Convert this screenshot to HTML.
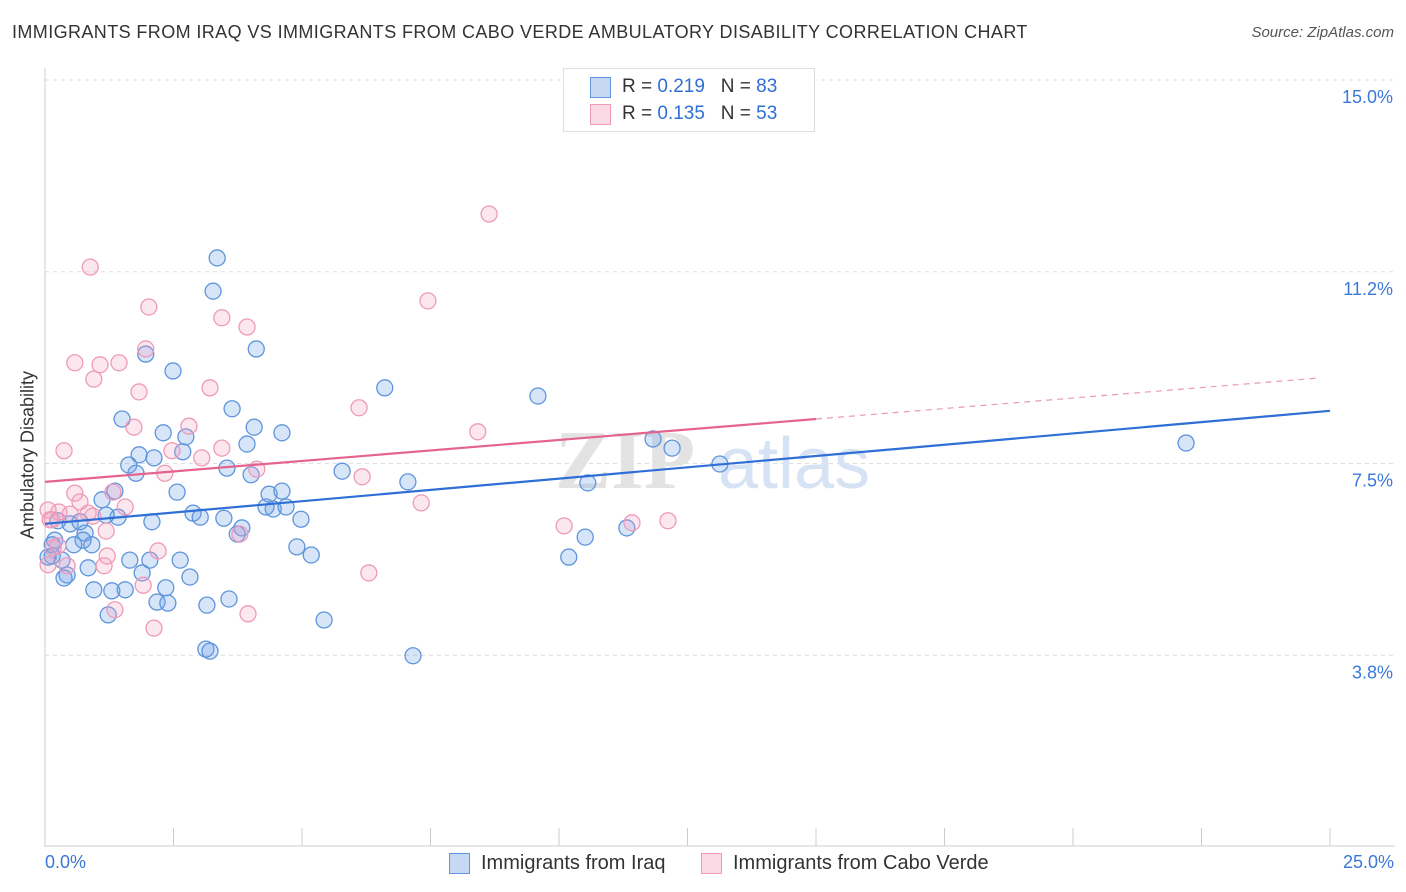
<!DOCTYPE html>
<html><head><meta charset="utf-8">
<style>
body{margin:0;background:#fff;font-family:"Liberation Sans",sans-serif;}
#wrap{position:relative;width:1406px;height:892px;overflow:hidden;}
.t{position:absolute;white-space:nowrap;}
</style></head>
<body>
<div id="wrap">
<div class="t" style="left:12px;top:22px;font-size:18px;color:#333;letter-spacing:0.4px;">IMMIGRANTS FROM IRAQ VS IMMIGRANTS FROM CABO VERDE AMBULATORY DISABILITY CORRELATION CHART</div>
<div class="t" style="right:12px;top:24px;font-size:15px;color:#555;font-style:italic;">Source: ZipAtlas.com</div>
<svg id="plot" width="1406" height="892" style="position:absolute;left:0;top:0"></svg>
</div>
<script>
const xTicks=[0,2.5,5,7.5,10,12.5,15,17.5,20,22.5,25];
const yTicks=[15,11.25,7.5,3.75];
const yTickLabels=["15.0%","11.2%","7.5%","3.8%"];
const iraqX=[3.35,3.27,4.11,1.96,2.49,6.61,9.59,3.64,1.50,4.07,4.61,2.30,2.74,3.93,11.83,12.20,22.20,2.68,1.83,2.12,1.63,1.77,3.54,4.01,5.78,7.06,10.56,13.13,2.57,1.36,1.11,4.36,4.61,4.30,4.44,4.69,2.88,3.02,3.48,4.98,1.42,1.19,2.08,0.25,0.49,0.68,0.78,3.83,3.74,0.19,0.74,0.56,0.91,4.90,5.18,10.19,10.51,11.32,0.14,0.33,1.65,2.04,2.63,0.84,1.89,2.82,0.43,0.37,0.95,1.30,1.56,2.35,2.18,2.39,3.15,3.58,1.23,5.43,3.13,3.21,7.16,0.06,0.14];
const iraqY=[11.52,10.87,9.74,9.64,9.31,8.98,8.82,8.57,8.37,8.21,8.10,8.10,8.02,7.88,7.98,7.80,7.90,7.73,7.67,7.61,7.47,7.31,7.41,7.28,7.35,7.14,7.12,7.49,6.94,6.96,6.79,6.90,6.96,6.65,6.61,6.65,6.53,6.45,6.43,6.41,6.45,6.49,6.36,6.38,6.32,6.36,6.14,6.24,6.12,6.00,6.00,5.91,5.91,5.87,5.71,5.67,6.06,6.24,5.69,5.61,5.61,5.61,5.61,5.46,5.36,5.28,5.32,5.26,5.03,5.01,5.03,5.07,4.79,4.77,4.73,4.85,4.54,4.44,3.87,3.83,3.74,5.67,5.91];
const caboX=[8.64,0.88,7.45,2.02,3.44,3.93,1.96,0.58,1.07,1.44,0.95,3.21,1.83,6.11,1.73,2.80,8.42,0.37,3.44,2.47,3.05,2.33,4.12,6.17,0.58,1.32,0.68,1.56,0.27,0.49,0.84,0.93,0.06,0.14,1.19,7.32,10.10,11.42,12.12,3.79,2.20,1.21,0.16,0.43,1.15,0.06,6.30,1.91,1.36,3.95,2.12,0.25,0.10];
const caboY=[12.38,11.34,10.68,10.56,10.35,10.17,9.74,9.47,9.43,9.47,9.15,8.98,8.90,8.59,8.21,8.23,8.12,7.75,7.80,7.75,7.61,7.31,7.39,7.24,6.92,6.94,6.75,6.65,6.55,6.51,6.53,6.47,6.59,6.40,6.18,6.73,6.28,6.34,6.38,6.12,5.79,5.69,5.85,5.50,5.50,5.52,5.36,5.12,4.64,4.56,4.28,5.89,6.40];
const iraqTrend=[6.32,8.53];
const caboTrend=[7.14,0.082];

const svg=document.getElementById('plot');
const NS='http://www.w3.org/2000/svg';
const X=v=>45+v/25*1285;
const Y=v=>847-v/15*767;
function mk(tag,attrs){const e=document.createElementNS(NS,tag);for(const k in attrs)e.setAttribute(k,attrs[k]);svg.appendChild(e);return e;}

yTicks.forEach((v,i)=>{
  const g=mk('line',{x1:45,x2:1395,y1:Y(v),y2:Y(v),stroke:'#ddd','stroke-dasharray':'4,4'});
  
  
  const t=mk('text',{x:1393,y:Y(v)+23,'text-anchor':'end','font-size':18,fill:'#3b78d8','font-family':'Liberation Sans'});
  t.textContent=yTickLabels[i];
  
  
});
const ax=mk('line',{x1:45,x2:45,y1:68,y2:847,stroke:'#ccc'});


const bx=mk('line',{x1:45,x2:1395,y1:846,y2:846,stroke:'#ccc'});


xTicks.forEach(v=>{
  const l=mk('line',{x1:X(v),x2:X(v),y1:828,y2:846,stroke:'#ccc'});
  
  
});
const w1=mk('text',{x:555,y:488,'font-size':84,fill:'#e3e3e3','font-family':'Liberation Serif','font-weight':'bold'});
w1.textContent='ZIP';


const w2=mk('text',{x:718,y:488,'font-size':72,fill:'#d6e3f5','font-family':'Liberation Sans'});
w2.textContent='atlas';



iraqX.forEach((x,i)=>{
  const c=mk('circle',{cx:X(x),cy:Y(iraqY[i]),r:8,fill:'rgba(110,160,230,0.28)',stroke:'#5f95dc','stroke-width':1.3});
  
  
});
caboX.forEach((x,i)=>{
  const c=mk('circle',{cx:X(x),cy:Y(caboY[i]),r:8,fill:'rgba(245,160,190,0.25)',stroke:'#ee9ab8','stroke-width':1.3});
  
  
});
const tl1=mk('line',{x1:X(0),y1:Y(iraqTrend[0]),x2:X(25),y2:Y(iraqTrend[1]),stroke:'#2f6fd6','stroke-width':2.2});


const tl2=mk('line',{x1:X(0),y1:Y(caboTrend[0]),x2:X(15),y2:Y(caboTrend[0]+15*caboTrend[1]),stroke:'#e4638f','stroke-width':2.2});


const tl3=mk('line',{x1:X(15),y1:Y(caboTrend[0]+15*caboTrend[1]),x2:X(24.8),y2:Y(caboTrend[0]+24.8*caboTrend[1]),stroke:'#e99ab5','stroke-width':1.2,'stroke-dasharray':'6,5'});


</script>
<div class="t" style="left:45px;top:852px;font-size:18px;color:#3b78d8;">0.0%</div>
<div class="t" style="right:12px;top:852px;font-size:18px;color:#3b78d8;">25.0%</div>
<div class="t" style="left:18px;top:455px;font-size:18px;color:#333;transform:translate(-50%,-50%) rotate(-90deg);transform-origin:center;margin-left:10px;">Ambulatory Disability</div>

<div style="position:absolute;left:563px;top:68px;width:250px;height:62px;border:1px solid #ddd;background:#fff;font-size:19px;">
 <div class="t" style="left:26px;top:8px;width:19px;height:19px;background:rgba(110,160,230,0.4);border:1px solid #5f95dc;"></div>
 <div class="t" style="left:58px;top:7px;color:#333;">R = <span style="color:#2f6fd6">0.219</span>&nbsp;&nbsp;&nbsp;N = <span style="color:#2f6fd6">83</span></div>
 <div class="t" style="left:26px;top:35px;width:19px;height:19px;background:rgba(245,160,190,0.4);border:1px solid #ee9ab8;"></div>
 <div class="t" style="left:58px;top:34px;color:#333;">R = <span style="color:#2f6fd6">0.135</span>&nbsp;&nbsp;&nbsp;N = <span style="color:#2f6fd6">53</span></div>
</div>

<div class="t" style="left:449px;top:853px;width:19px;height:19px;background:rgba(110,160,230,0.4);border:1px solid #5f95dc;"></div>
<div class="t" style="left:481px;top:852px;font-size:20px;color:#333;">Immigrants from Iraq</div>
<div class="t" style="left:701px;top:853px;width:19px;height:19px;background:rgba(245,160,190,0.4);border:1px solid #ee9ab8;"></div>
<div class="t" style="left:733px;top:852px;font-size:20px;color:#333;">Immigrants from Cabo Verde</div>
</body></html>
